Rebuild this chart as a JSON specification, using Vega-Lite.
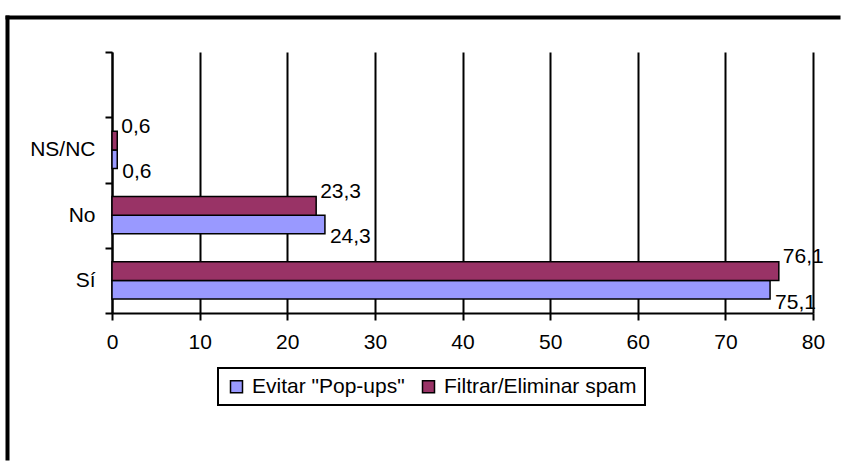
{
  "$schema": "https://vega.github.io/schema/vega-lite/v6.json",
  "width": 701,
  "height": 261,
  "autosize": {"type": "none"},
  "padding": {"left": 112, "top": 52, "right": 30, "bottom": 151},
  "background": "white",
  "config": {
    "locale": {"number": {"decimal": ",", "thousands": ".", "grouping": [3], "currency": ["", " €"]}},
    "view": {"stroke": null},
    "font": "Liberation Sans",
    "text": {"font": "Liberation Sans", "fontSize": 21, "color": "black"},
    "legend": {"strokeWidth": 2}
  },
  "data": {
    "values": [
      {"respuesta": "Sí", "uso": "Evitar \"Pop-ups\"", "porcentaje": 75.1},
      {"respuesta": "Sí", "uso": "Filtrar/Eliminar spam", "porcentaje": 76.1},
      {"respuesta": "No", "uso": "Evitar \"Pop-ups\"", "porcentaje": 24.3},
      {"respuesta": "No", "uso": "Filtrar/Eliminar spam", "porcentaje": 23.3},
      {"respuesta": "NS/NC", "uso": "Evitar \"Pop-ups\"", "porcentaje": 0.6},
      {"respuesta": "NS/NC", "uso": "Filtrar/Eliminar spam", "porcentaje": 0.6}
    ]
  },
  "resolve": {"scale": {"x": "independent", "y": "independent"}, "axis": {"x": "independent", "y": "independent"}},
  "layer": [
    {
      "encoding": {
        "y": {
          "field": "respuesta", "type": "nominal", "title": null,
          "scale": {"domain": [" ", "NS/NC", "No", "Sí"], "paddingInner": 0, "paddingOuter": 0},
          "axis": {"orient": "left", "tickBand": "extent", "domainColor": "black", "domainWidth": 2, "tickColor": "black", "tickWidth": 2, "tickSize": 7, "labelFontSize": 21, "labelFont": "Liberation Sans", "labelColor": "black", "labelPadding": 10, "grid": false}
        },
        "yOffset": {
          "field": "uso", "type": "nominal",
          "scale": {"domain": ["Filtrar/Eliminar spam", "Evitar \"Pop-ups\""], "paddingInner": 0, "paddingOuter": 0.76}
        },
        "x": {
          "field": "porcentaje", "type": "quantitative", "title": null,
          "scale": {"domain": [0, 80], "nice": false},
          "axis": {"orient": "bottom", "values": [0, 10, 20, 30, 40, 50, 60, 70, 80], "grid": true, "gridColor": "black", "gridWidth": 2, "gridOpacity": 1, "domainColor": "black", "domainWidth": 2, "tickColor": "black", "tickWidth": 2, "tickSize": 7, "labelFontSize": 21, "labelFont": "Liberation Sans", "labelColor": "black", "labelPadding": 11, "labelFlush": false}
        }
      },
      "layer": [
        {
          "mark": {"type": "bar", "stroke": "black", "strokeWidth": 1.5},
          "encoding": {
            "color": {
              "field": "uso", "type": "nominal",
              "scale": {"domain": ["Evitar \"Pop-ups\"", "Filtrar/Eliminar spam"], "range": ["#9999FF", "#993366"]},
              "legend": {"orient": "none", "legendX": 106, "legendY": 316, "direction": "horizontal", "title": null, "symbolType": "square", "symbolSize": 144, "symbolStrokeColor": "black", "symbolStrokeWidth": 1.5, "labelFontSize": 21, "labelColor": "black", "labelFont": "Liberation Sans", "padding": 8, "strokeColor": "black", "columnPadding": 13, "labelOffset": 5, "fillColor": "white", "labelLimit": 400}
            }
          }
        },
        {
          "transform": [{"filter": "datum.uso === 'Filtrar/Eliminar spam'"}],
          "mark": {"type": "text", "align": "left", "baseline": "middle", "dx": 4, "dy": -14},
          "encoding": {"text": {"field": "porcentaje", "type": "quantitative", "format": ".1f"}}
        },
        {
          "transform": [{"filter": "datum.uso !== 'Filtrar/Eliminar spam'"}],
          "mark": {"type": "text", "align": "left", "baseline": "middle", "dx": 5, "dy": 13},
          "encoding": {"text": {"field": "porcentaje", "type": "quantitative", "format": ".1f"}}
        }
      ]
    },
    {
      "mark": {"type": "point", "opacity": 0},
      "encoding": {
        "x": {"field": "porcentaje", "type": "quantitative", "title": null, "scale": {"domain": [0, 80], "range": [-107, 728], "nice": false, "zero": false}, "axis": {"orient": "top", "offset": 35, "domainColor": "black", "domainWidth": 4, "ticks": false, "labels": false, "grid": false}},
        "y": {"field": "porcentaje", "type": "quantitative", "title": null, "scale": {"domain": [0, 80], "range": [-37, 408], "nice": false, "zero": false}, "axis": {"orient": "left", "offset": 105, "domainColor": "black", "domainWidth": 4, "ticks": false, "labels": false, "grid": false}}
      }
    }
  ]
}
